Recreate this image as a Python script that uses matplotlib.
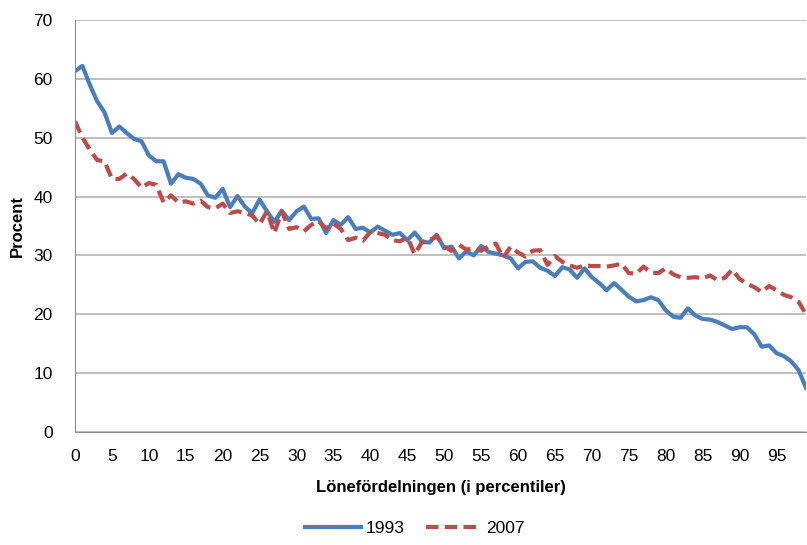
import numpy as np
import matplotlib.pyplot as plt

percentiles = list(range(100))

share_1993 = [
    61.3, 62.2, 59.0, 56.2, 54.3, 50.8, 51.9, 50.8, 49.8, 49.4,
    47.0, 46.0, 46.0, 42.2, 43.8, 43.2, 43.0, 42.2, 40.2, 39.8,
    41.3, 38.2, 40.1, 38.3, 37.2, 39.5, 37.5, 35.7, 37.6, 36.0,
    37.5, 38.3, 36.2, 36.3, 33.8, 36.0, 35.2, 36.5, 34.5, 34.7,
    33.9, 34.9, 34.2, 33.5, 33.8, 32.6, 33.9, 32.3, 32.2, 33.5,
    31.2, 31.5, 29.5, 30.7, 30.0, 31.6, 30.6, 30.3, 30.0, 29.5,
    27.8, 28.9, 29.0, 27.9, 27.4, 26.5, 28.0, 27.6, 26.2, 27.8,
    26.3, 25.3, 24.1, 25.3, 24.2, 23.0, 22.2, 22.4, 22.9, 22.4,
    20.7, 19.6, 19.4, 21.0, 19.8, 19.2, 19.1, 18.7, 18.1, 17.5,
    17.8, 17.8, 16.6, 14.5, 14.7, 13.4, 12.9, 12.0, 10.5, 7.5,
]

share_2007 = [
    52.8, 50.0, 48.0, 46.2, 46.0, 43.0, 43.0, 43.9, 43.0, 41.5,
    42.3, 42.0, 39.0, 40.2, 39.0, 39.2, 38.8, 39.3, 38.2, 38.0,
    38.8, 37.2, 37.5, 37.2, 36.8, 35.3, 37.5, 33.8, 37.5, 34.5,
    34.8, 34.1, 35.2, 35.8, 34.6, 35.4, 34.5, 32.6, 33.0, 32.5,
    34.0, 33.8, 33.5, 32.6, 32.4, 33.1, 30.2, 32.3, 32.6, 33.2,
    31.5, 30.8, 31.8, 31.0, 31.2, 30.8, 31.5, 32.0, 29.6, 31.5,
    30.5, 29.8, 30.8, 30.9, 28.4, 29.9, 28.9, 28.3, 27.9, 28.3,
    28.2, 28.2, 28.1, 28.3, 28.6, 27.0, 26.9, 28.1, 27.1, 27.0,
    27.8, 26.8, 26.3, 26.2, 26.3, 26.1, 26.6, 25.8, 26.2, 27.6,
    26.0, 25.2, 24.6, 23.8, 24.8, 24.1, 23.3, 22.9, 22.1, 20.0,
]

plt.rcParams['font.family'] = ['Liberation Sans', 'DejaVu Sans']

fig = plt.figure(figsize=(8.07, 5.45), dpi=100)
ax = fig.add_axes([75 / 807, 113 / 545, 731 / 807, 412 / 545])

ax.plot(percentiles, share_1993, color='#4a7ebb', linewidth=3, label='1993')
ax.plot(percentiles, share_2007, color='#be4b48', linewidth=3,
        linestyle=(0, (3, 1.5)), label='2007')

ax.set_xlim(0, 99)
ax.set_ylim(0, 70)
ax.set_xticks(np.arange(0, 100, 5))
ax.set_yticks(np.arange(0, 71, 10))
ax.tick_params(length=0, labelsize=12.5, pad=12)
ax.tick_params(axis='y', pad=16)
ax.grid(axis='y', color='#b3b3b3', linewidth=1.2)
ax.set_axisbelow(True)
for side in ['top', 'right']:
    ax.spines[side].set_visible(False)
for side in ['left', 'bottom']:
    ax.spines[side].set_color('#8c8c8c')

ax.set_xlabel('Lönefördelningen (i percentiler)', fontsize=12, fontweight='bold', labelpad=12)
ax.set_ylabel('Procent', fontsize=12, fontweight='bold', labelpad=6)

fig.legend(loc='lower center', bbox_to_anchor=(415 / 807, -0.012), ncol=2, frameon=False,
           fontsize=12.5, handlelength=3.2, columnspacing=1.2, handletextpad=0.3)

fig.savefig('out.png', dpi=100)
